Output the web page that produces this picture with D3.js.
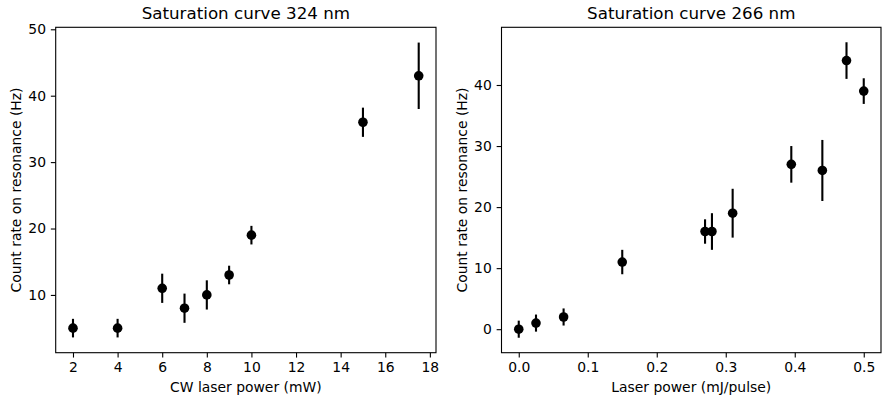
<!DOCTYPE html>
<meta charset="utf-8">
<script src="https://cdn.jsdelivr.net/npm/d3@7"></script>
<style>
  body { margin: 0; background: #fff; }
  text { font-family: "DejaVu Sans", sans-serif; fill: #000; }
</style>
<div id="my_dataviz"></div>
<script>
// data
var cwPower = [2, 4, 6, 7, 8, 9, 10, 15, 17.5];
var cwRate  = [5, 5, 11, 8, 10, 13, 19, 36, 43];
var cwErr   = [1.4, 1.4, 2.2, 2.2, 2.2, 1.4, 1.4, 2.2, 5];

var pulsePower = [0, 0.025, 0.065, 0.15, 0.27, 0.28, 0.31, 0.395, 0.44, 0.475, 0.5];
var pulseRate  = [0, 1, 2, 11, 16, 16, 19, 27, 26, 44, 39];
var pulseErr   = [1.4, 1.4, 1.4, 2, 2, 3, 4, 3, 5, 3, 2.1];

var cwTicksX = [2, 4, 6, 8, 10, 12, 14, 16, 18];
var cwTicksY = [10, 20, 30, 40, 50];
var pulseTicksX = [0, 0.1, 0.2, 0.3, 0.4, 0.5];
var pulseTicksY = [0, 10, 20, 30, 40];

var W = 882, H = 399;
var svg = d3.select("#my_dataviz")
  .append("svg")
    .attr("width", W)
    .attr("height", H);

var tickLen = 4.86, tickPad = 4.86;

function drawPanel(opt) {
  var x = d3.scaleLinear().domain(opt.xDomain).range([opt.left, opt.right]);
  var y = d3.scaleLinear().domain(opt.yDomain).range([opt.bottom, opt.top]);

  // x axis
  svg.append("g")
    .attr("transform", "translate(0," + opt.bottom + ")")
    .call(d3.axisBottom(x).tickValues(opt.xTicks).tickFormat(opt.xFormat)
      .tickSize(tickLen).tickSizeOuter(0).tickPadding(tickPad))
    .call(function(g) {
      g.select(".domain").remove();
      g.selectAll("line").attr("stroke", "#000").attr("stroke-width", 1.1);
      g.selectAll("text").style("font-size", "13.9px").attr("fill", "#000");
    });

  // y axis
  svg.append("g")
    .attr("transform", "translate(" + opt.left + ",0)")
    .call(d3.axisLeft(y).tickValues(opt.yTicks).tickFormat(d3.format("d"))
      .tickSize(tickLen).tickSizeOuter(0).tickPadding(tickPad))
    .call(function(g) {
      g.select(".domain").remove();
      g.selectAll("line").attr("stroke", "#000").attr("stroke-width", 1.1);
      g.selectAll("text").style("font-size", "13.9px").attr("fill", "#000");
    });

  // frame
  svg.append("rect")
    .attr("x", opt.left)
    .attr("y", opt.top)
    .attr("width", opt.right - opt.left)
    .attr("height", opt.bottom - opt.top)
    .attr("fill", "none")
    .attr("stroke", "#000")
    .attr("stroke-width", 1.1);

  var pts = opt.xs.map(function(v, i) { return {x: v, y: opt.ys[i], e: opt.es[i]}; });

  // error bars
  svg.append("g").selectAll("line")
    .data(pts)
    .enter()
    .append("line")
      .attr("x1", function(d) { return x(d.x); })
      .attr("x2", function(d) { return x(d.x); })
      .attr("y1", function(d) { return y(d.y - d.e); })
      .attr("y2", function(d) { return y(d.y + d.e); })
      .attr("stroke", "#000")
      .attr("stroke-width", 2.1);

  // markers
  svg.append("g").selectAll("circle")
    .data(pts)
    .enter()
    .append("circle")
      .attr("cx", function(d) { return x(d.x); })
      .attr("cy", function(d) { return y(d.y); })
      .attr("r", 4.8)
      .attr("fill", "#000");

  // title
  svg.append("text")
    .attr("x", (opt.left + opt.right) / 2)
    .attr("y", 19)
    .attr("text-anchor", "middle")
    .style("font-size", "16.7px")
    .text(opt.title);

  // x label
  svg.append("text")
    .attr("x", (opt.left + opt.right) / 2)
    .attr("y", 392)
    .attr("text-anchor", "middle")
    .style("font-size", "13.9px")
    .text(opt.xLabel);

  // y label
  svg.append("text")
    .attr("transform", "translate(" + opt.yLabelX + "," + (opt.top + opt.bottom) / 2 + ") rotate(-90)")
    .attr("text-anchor", "middle")
    .style("font-size", "13.9px")
    .text("Count rate on resonance (Hz)");
}

drawPanel({
  left: 55.7, right: 436, top: 27.3, bottom: 352.7,
  xDomain: [1.225, 18.275], yDomain: [1.3, 50.3],
  xTicks: cwTicksX, yTicks: cwTicksY, xFormat: d3.format("d"),
  xs: cwPower, ys: cwRate, es: cwErr,
  title: "Saturation curve 324 nm",
  xLabel: "CW laser power (mW)",
  yLabelX: 20.5
});

drawPanel({
  left: 501.5, right: 881, top: 27.3, bottom: 352.7,
  xDomain: [-0.025, 0.525], yDomain: [-3.85, 49.45],
  xTicks: pulseTicksX, yTicks: pulseTicksY, xFormat: d3.format(".1f"),
  xs: pulsePower, ys: pulseRate, es: pulseErr,
  title: "Saturation curve 266 nm",
  xLabel: "Laser power (mJ/pulse)",
  yLabelX: 467
});
</script>
